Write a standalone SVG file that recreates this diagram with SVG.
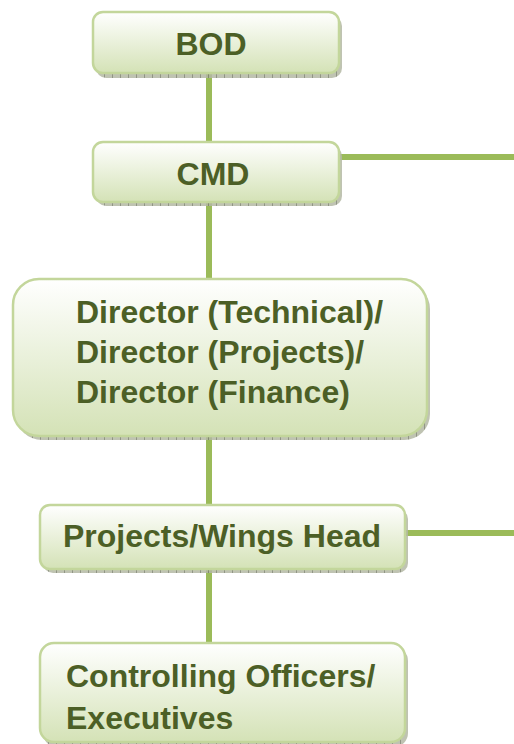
<svg xmlns="http://www.w3.org/2000/svg" width="514" height="744" viewBox="0 0 514 744">
<defs>
<linearGradient id="g" x1="0" y1="0" x2="0" y2="1">
<stop offset="0" stop-color="#ffffff"/>
<stop offset="1" stop-color="#d4e2b6"/>
</linearGradient>
<pattern id="tick" width="8" height="8" patternUnits="userSpaceOnUse">
<rect width="8" height="8" fill="#b4b8a4"/>
<rect width="1" height="8" fill="#7d8270"/>
</pattern>
</defs>
<style>
.box{fill:url(#g);stroke:#c3d69b;stroke-width:2.5}
.sh{fill:url(#tick);opacity:0.85}
.t{font-family:"Liberation Sans",Arial,sans-serif;font-weight:bold;font-size:32px;fill:#4c5f26}
.c{stroke:#9bbb59;stroke-width:6;fill:none}
</style>
<g id="connectors">
<line class="c" x1="209" y1="73" x2="209" y2="142"/>
<line class="c" x1="339" y1="157" x2="514" y2="157"/>
<line class="c" x1="209" y1="202" x2="209" y2="279"/>
<line class="c" x1="209" y1="436" x2="209" y2="505"/>
<line class="c" x1="405" y1="533" x2="514" y2="533"/>
<line class="c" x1="209" y1="569" x2="209" y2="643"/>
</g>
<g id="bod">
<rect class="sh" x="96" y="16" width="246" height="62" rx="10"/>
<rect class="box" x="93" y="12" width="246" height="61" rx="10"/>
<text class="t" x="211" y="55" text-anchor="middle">BOD</text>
</g>
<g id="cmd">
<rect class="sh" x="96" y="146" width="246" height="60" rx="10"/>
<rect class="box" x="93" y="142" width="246" height="60" rx="10"/>
<text class="t" x="213" y="185" text-anchor="middle">CMD</text>
</g>
<g id="directors">
<rect class="sh" x="16" y="283" width="414" height="157" rx="26"/>
<rect class="box" x="13" y="279" width="414" height="157" rx="26"/>
<text class="t" x="76" y="323">Director (Technical)/</text>
<text class="t" x="76" y="363">Director (Projects)/</text>
<text class="t" x="76" y="403">Director (Finance)</text>
</g>
<g id="projects">
<rect class="sh" x="43" y="509" width="365" height="64" rx="10"/>
<rect class="box" x="40" y="505" width="365" height="64" rx="10"/>
<text class="t" x="63" y="547">Projects/Wings Head</text>
</g>
<g id="controlling">
<rect class="sh" x="43" y="647" width="365" height="100" rx="14"/>
<rect class="box" x="40" y="643" width="365" height="99" rx="14"/>
<text class="t" x="66" y="687">Controlling Officers/</text>
<text class="t" x="66" y="729">Executives</text>
</g>
</svg>
